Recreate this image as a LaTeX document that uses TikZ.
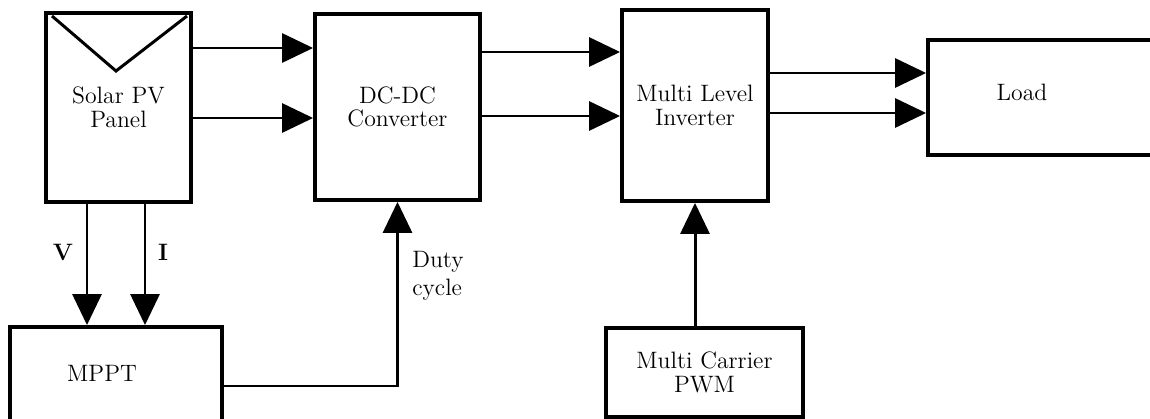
\documentclass[tikz,border=0pt]{standalone}
\usetikzlibrary{arrows.meta}
\tikzset{
	block/.style={draw, line width=2.2pt, inner sep=0pt, align=center, font=\fontsize{13.5}{13.5}\selectfont},
	caption/.style={inner sep=0pt, align=left, font=\fontsize{13.5}{16}\selectfont},
	flow/.style={line width=1.7pt, -{Triangle[length=0.62cm,width=0.58cm]}}
}
\begin{document}
\begin{tikzpicture}[x=0.02cm,y=-0.02cm]
	% frame: 1150 x 419 px, 1px = 0.2mm
	\useasboundingbox (0,0) rectangle (1150,419);
	\clip (0,0) rectangle (1150,419);
	% power path blocks
	\node[block, minimum width=2.9cm, minimum height=3.78cm] (solar) at (118.5,107.5) {Solar PV\\Panel};
	\node[block, minimum width=3.3cm, minimum height=3.72cm] (dcdc) at (397.5,107) {DC-DC\\Converter};
	\node[block, minimum width=2.92cm, minimum height=3.82cm] (inv) at (695,105.5) {Multi Level\\Inverter};
	\node[block, minimum width=4.84cm, minimum height=2.3cm] (load) at (1049,97.5) {};
	\node[caption] (loadtext) at (1022,92) {Load};
	% control blocks
	\node[block, minimum width=4.24cm, minimum height=2.46cm] (mppt) at (116,388.5) {};
	\node[caption] (mppttext) at (102,373) {MPPT};
	\node[block, minimum width=3.94cm, minimum height=1.78cm] (pwm) at (704.5,372.5) {Multi Carrier\\PWM};
	% panel symbol
	\draw[line width=1.7pt] (52,16) -- (116,71) -- (187,16);
	% two-wire links
	\draw[flow] (solar.east |- 0,48) -- (dcdc.west |- 0,48);
	\draw[flow] (solar.east |- 0,118) -- (dcdc.west |- 0,118);
	\draw[flow] (dcdc.east |- 0,52) -- (inv.west |- 0,52);
	\draw[flow] (dcdc.east |- 0,116) -- (inv.west |- 0,116);
	\draw[flow] (inv.east |- 0,73) -- (load.west |- 0,73);
	\draw[flow] (inv.east |- 0,113) -- (load.west |- 0,113);
	% sensing
	\draw[flow] (solar.south -| 87,0) -- (mppt.north -| 87,0);
	\draw[flow] (solar.south -| 145,0) -- (mppt.north -| 145,0);
	\node[caption, font=\fontsize{13.5}{16}\selectfont\bfseries] (vtag) at (63,252) {V};
	\node[caption, font=\fontsize{13.5}{16}\selectfont\bfseries] (itag) at (163,252) {I};
	% control signals
	\draw[flow] (mppt.east |- 0,386) -| (dcdc.south);
	\node[caption, anchor=west] (duty) at (412,276) {Duty\\cycle};
	\draw[flow] (inv.south |- pwm.north) -- (inv.south);
\end{tikzpicture}
\end{document}
